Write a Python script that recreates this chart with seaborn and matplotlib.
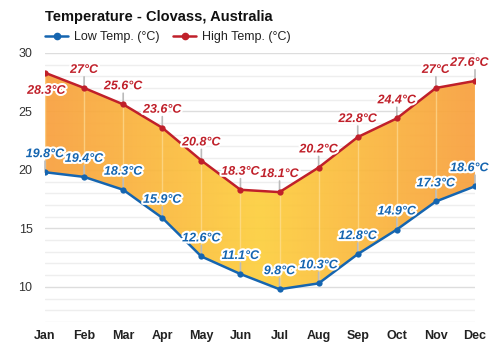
import numpy as np
import pandas as pd
import seaborn as sns
import matplotlib
matplotlib.use("Agg")
import matplotlib.pyplot as plt
import matplotlib.patheffects as pe
from matplotlib.colors import LinearSegmentedColormap
from matplotlib.lines import Line2D

months = ["Jan", "Feb", "Mar", "Apr", "May", "Jun", "Jul", "Aug", "Sep", "Oct", "Nov", "Dec"]
low_temp = [19.8, 19.4, 18.3, 15.9, 12.6, 11.1, 9.8, 10.3, 12.8, 14.9, 17.3, 18.6]
high_temp = [28.3, 27.0, 25.6, 23.6, 20.8, 18.3, 18.1, 20.2, 22.8, 24.4, 27.0, 27.6]
low_labels = ["19.8°C", "19.4°C", "18.3°C", "15.9°C", "12.6°C", "11.1°C", "9.8°C", "10.3°C", "12.8°C", "14.9°C", "17.3°C", "18.6°C"]
high_labels = ["28.3°C", "27°C", "25.6°C", "23.6°C", "20.8°C", "18.3°C", "18.1°C", "20.2°C", "22.8°C", "24.4°C", "27°C", "27.6°C"]
yticks = [10, 15, 20, 25, 30]

title = "Temperature - Clovass, Australia"
low_name = "Low Temp. (°C)"
high_name = "High Temp. (°C)"

sns.set_theme(style="white")
plt.rcParams["font.family"] = ["Liberation Sans", "DejaVu Sans"]

LOW_C = "#1565b0"
HIGH_C = "#c0202a"

fig = plt.figure(figsize=(5, 3.5), dpi=100)
ax = fig.add_axes([0.09, 0.08, 0.86, 0.769])

x = np.arange(len(months))
df = pd.DataFrame({"m": x, "low": low_temp, "high": high_temp})

ax.set_xlim(0, len(months) - 1)
ax.set_ylim(7, 30)

# grid
for v in range(7, 31):
    ax.axhline(v, color="#dddddd" if v % 5 == 0 else "#eeeeee", lw=1.0, zorder=0)

# gradient fill: orange at the ends, yellow in mid-year
cmap = LinearSegmentedColormap.from_list("g", ["#f8a03e", "#fdcf3e"])
grad = 1 - np.abs(np.linspace(-1, 1, 400))
img = ax.imshow(grad[np.newaxis, :], extent=[0, len(months) - 1, 7, 30], aspect="auto",
                cmap=cmap, vmin=0, vmax=1, alpha=0.93, zorder=1, interpolation="bicubic")
poly = ax.fill_between(x, low_temp, high_temp, color="none", lw=0)
img.set_clip_path(poly.get_paths()[0], transform=ax.transData)

ax.vlines(x, low_temp, high_temp, color="#ffe2a0", lw=1.0, alpha=0.6, zorder=2)

sns.lineplot(data=df, x="m", y="high", color=HIGH_C, marker="o", markersize=4.5,
             markeredgewidth=0, lw=1.8, ax=ax, zorder=4)
sns.lineplot(data=df, x="m", y="low", color=LOW_C, marker="o", markersize=4.5,
             markeredgewidth=0, lw=1.8, ax=ax, zorder=4)

stroke = [pe.withStroke(linewidth=3, foreground="white")]
for i in range(len(months)):
    # high labels
    if i == 0:
        ax.annotate(high_labels[i], (x[i], high_temp[i]), xytext=(1, -13), textcoords="offset points",
                    ha="center", va="center", color=HIGH_C, fontsize=9, fontweight="bold",
                    fontstyle="italic", path_effects=stroke, zorder=6)
    else:
        dx = -4 if i == len(months) - 1 else 0
        ax.annotate("", (x[i], high_temp[i]), xytext=(0, 8), textcoords="offset points",
                    arrowprops=dict(arrowstyle="-", color="#bbbbbb", lw=1.2, shrinkA=0, shrinkB=0), zorder=3)
        ax.annotate(high_labels[i], (x[i], high_temp[i]), xytext=(dx, 13), textcoords="offset points",
                    ha="center", va="center", color=HIGH_C, fontsize=9, fontweight="bold",
                    fontstyle="italic", path_effects=stroke, zorder=6, annotation_clip=False)
    dx = -4 if i == len(months) - 1 else 0
    ax.annotate("", (x[i], low_temp[i]), xytext=(0, 8), textcoords="offset points",
                arrowprops=dict(arrowstyle="-", color="#bbbbbb", lw=1.2, shrinkA=0, shrinkB=0), zorder=3)
    ax.annotate(low_labels[i], (x[i], low_temp[i]), xytext=(dx, 13), textcoords="offset points",
                ha="center", va="center", color=LOW_C, fontsize=9, fontweight="bold",
                fontstyle="italic", path_effects=stroke, zorder=6)

ax.set_xticks(x)
ax.set_xticklabels(months, fontweight="bold", fontsize=9, color="#222222")
ax.set_yticks(yticks)
ax.set_yticklabels([str(v) for v in yticks], fontsize=9, color="#333333")
ax.tick_params(axis="x", length=0, pad=6)
ax.tick_params(axis="y", length=0, pad=9)
ax.set_xlabel("")
ax.set_ylabel("")
for s in ax.spines.values():
    s.set_visible(False)

fig.text(0.09, 0.952, title, fontsize=10.5, fontweight="bold", color="#111111", va="center", ha="left")

handles = [Line2D([], [], color=LOW_C, marker="o", markersize=4.5, lw=1.8),
           Line2D([], [], color=HIGH_C, marker="o", markersize=4.5, lw=1.8)]
fig.legend(handles, [low_name, high_name], loc="center left", bbox_to_anchor=(0.068, 0.893),
           ncol=2, frameon=False, fontsize=9, handlelength=1.8, handletextpad=0.5,
           columnspacing=1.1, labelcolor="#222222")

fig.savefig("out.png", dpi=100)
